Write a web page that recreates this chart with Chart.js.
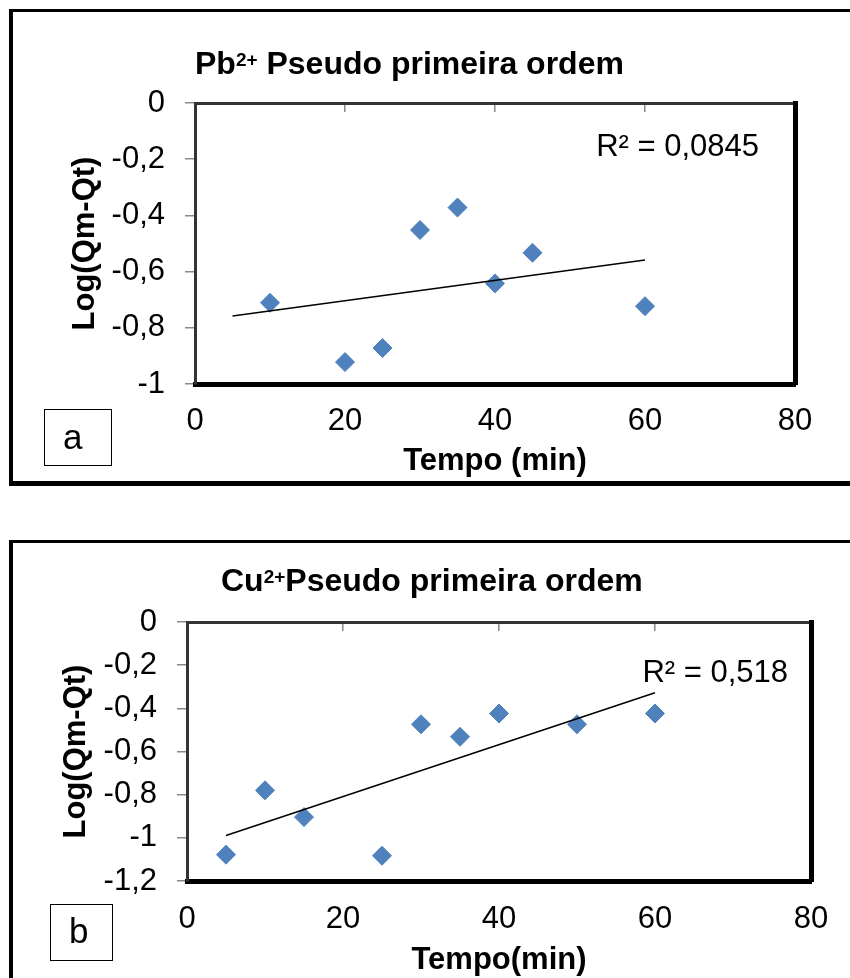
<!DOCTYPE html>
<html lang="pt-br">

<head>
    <meta charset="UTF-8" />
    <title>Pseudo primeira ordem</title>
    <script src="https://cdn.jsdelivr.net/npm/chart.js"></script>
    <style>
        body {
            margin: 0;
            width: 850px;
            height: 978px;
            overflow: hidden;
            position: relative;
            background: #fff;
            font-family: "Liberation Sans", Arial, sans-serif;
        }

        .quadro {
            position: absolute;
            left: 9px;
            width: 900px;
            box-sizing: border-box;
            border-left: 4px solid #000;
            border-top: 3px solid #000;
            border-bottom: 5px solid #000;
        }

        #quadroA { top: 9px; height: 477px; }
        #quadroB { top: 540px; height: 520px; }

        canvas { position: absolute; left: 0; }
        #graficoPb { top: 0; }
        #graficoCu { top: 530px; }

        .titulo {
            position: absolute;
            font-weight: bold;
            font-size: 32px;
            line-height: 32px;
            white-space: nowrap;
        }

        .titulo span {
            font-size: 19px;
            line-height: 19px;
            position: relative;
            top: -8px;
        }

        .letra {
            position: absolute;
            box-sizing: border-box;
            border: 1.5px solid #000;
            font-size: 35px;
            line-height: 35px;
        }
    </style>
</head>

<body>
    <div class="quadro" id="quadroA"></div>
    <div class="quadro" id="quadroB"></div>

    <canvas id="graficoPb" width="850" height="500"></canvas>
    <canvas id="graficoCu" width="850" height="470"></canvas>

    <div class="titulo" style="left:195px; top:47px;">Pb<span>2+</span> Pseudo primeira ordem</div>
    <div class="titulo" style="left:221px; top:564px;">Cu<span>2+</span>Pseudo primeira ordem</div>

    <div class="letra" style="left:44px; top:409px; width:68px; height:57px; padding:9px 0 0 18px;">a</div>
    <div class="letra" style="left:50px; top:904px; width:63px; height:57px; padding:8px 0 0 18px;">b</div>
</body>

</html>
<script>
    // dados (a) Pb2+
    var tempoPb = [10, 20, 25, 30, 35, 40, 45, 60];
    var logPb = [-0.711, -0.922, -0.872, -0.452, -0.372, -0.642, -0.533, -0.723];
    var tendTempoPb = [5, 60];
    var tendLogPb = [-0.758, -0.559];

    // dados (b) Cu2+
    var tempoCu = [5, 10, 15, 25, 30, 35, 40, 50, 60];
    var logCu = [-1.078, -0.780, -0.904, -1.083, -0.474, -0.532, -0.424, -0.474, -0.424];
    var tendTempoCu = [5, 60];
    var tendLogCu = [-0.989, -0.328];

    // ticks dos eixos
    var ticksTempo = [0, 20, 40, 60, 80];
    var ticksLogPb = [-1, -0.8, -0.6, -0.4, -0.2, 0];
    var ticksLogCu = [-1.2, -1, -0.8, -0.6, -0.4, -0.2, 0];

    Chart.defaults.font.family = '"Liberation Sans", Arial, sans-serif';
    Chart.defaults.color = '#000';

    // texto do R² no canto do grafico
    var rotuloR2 = {
        id: 'rotuloR2',
        afterDatasetsDraw: function (chart, args, opts) {
            var ctx = chart.ctx;
            var area = chart.chartArea;
            ctx.save();
            ctx.font = '31px "Liberation Sans", Arial, sans-serif';
            ctx.fillStyle = '#000';
            ctx.textAlign = 'right';
            ctx.textBaseline = 'alphabetic';
            ctx.fillText(opts.texto, area.right - opts.dx, area.top + opts.dy);
            ctx.restore();
        }
    };

    function pontos(xs, ys) {
        return xs.map(function (x, i) { return { x: x, y: ys[i] }; });
    }

    function usarTicks(lista) {
        return function (scale) {
            scale.ticks = lista.map(function (v) { return { value: v }; });
        };
    }

    function grafico(id, p) {
        new Chart(document.getElementById(id), {
            type: 'scatter',
            data: {
                datasets: [
                    {
                        data: pontos(p.tempo, p.log),
                        pointStyle: 'rectRot',
                        pointRadius: 9.5,
                        pointHoverRadius: 9.5,
                        backgroundColor: '#4f81bd',
                        borderColor: '#4f81bd',
                        borderWidth: 1,
                        order: 1
                    },
                    {
                        data: pontos(p.tendTempo, p.tendLog),
                        showLine: true,
                        borderColor: '#000',
                        borderWidth: 1.5,
                        pointRadius: 0,
                        order: 0
                    }
                ]
            },
            options: {
                responsive: false,
                animation: false,
                events: [],
                layout: { padding: { left: 0, top: p.topo, right: p.direita, bottom: 0 } },
                plugins: {
                    legend: { display: false },
                    tooltip: { enabled: false },
                    rotuloR2: { texto: p.r2, dx: p.r2dx, dy: p.r2dy }
                },
                scales: {
                    x: {
                        type: 'linear',
                        position: 'bottom',
                        min: 0,
                        max: 80,
                        afterBuildTicks: usarTicks(ticksTempo),
                        ticks: { font: { size: 31 }, padding: p.padTickX, maxRotation: 0 },
                        grid: { drawOnChartArea: false, drawTicks: false },
                        border: { display: true, color: '#000', width: 5 },
                        title: {
                            display: true,
                            text: p.tituloX,
                            font: { size: 31, weight: 'bold' },
                            padding: { top: 0, bottom: p.padTituloX }
                        },
                        afterFit: function (s) { s.height = p.alturaX; }
                    },
                    x2: {
                        type: 'linear',
                        position: 'top',
                        min: 0,
                        max: 80,
                        afterBuildTicks: usarTicks(ticksTempo),
                        ticks: { display: false },
                        grid: { drawOnChartArea: false, drawTicks: true, tickLength: -9, color: '#888', lineWidth: 1.5 },
                        border: { display: true, color: '#333', width: 3 },
                        afterFit: function (s) { s.height = 0; }
                    },
                    y: {
                        type: 'linear',
                        position: 'left',
                        min: p.minY,
                        max: 0,
                        afterBuildTicks: usarTicks(p.ticksY),
                        ticks: {
                            font: { size: 31 },
                            padding: 20,
                            callback: function (v) { return String(v).replace('.', ','); }
                        },
                        grid: { drawOnChartArea: false, drawTicks: true, tickLength: 10, color: '#888', lineWidth: 1.5 },
                        border: { display: true, color: '#333', width: 3 },
                        title: {
                            display: true,
                            text: 'Log(Qm-Qt)',
                            font: { size: 31, weight: 'bold' },
                            padding: { top: p.padTituloY, bottom: 0 }
                        },
                        afterFit: function (s) { s.width = p.larguraY; }
                    },
                    y2: {
                        type: 'linear',
                        position: 'right',
                        min: p.minY,
                        max: 0,
                        ticks: { display: false },
                        grid: { drawOnChartArea: false, drawTicks: false },
                        border: { display: true, color: '#000', width: 5 },
                        afterFit: function (s) { s.width = 0; }
                    }
                }
            },
            plugins: [rotuloR2]
        });
    }

    grafico('graficoPb', {
        tempo: tempoPb, log: logPb, tendTempo: tendTempoPb, tendLog: tendLogPb,
        ticksY: ticksLogPb, minY: -1,
        tituloX: 'Tempo (min)', r2: 'R² = 0,0845', r2dx: 36, r2dy: 53,
        topo: 103, direita: 55, larguraY: 195, alturaX: 116,
        padTickX: 19, padTituloX: 20, padTituloY: 67
    });

    grafico('graficoCu', {
        tempo: tempoCu, log: logCu, tendTempo: tendTempoCu, tendLog: tendLogCu,
        ticksY: ticksLogCu, minY: -1.2,
        tituloX: 'Tempo(min)', r2: 'R² = 0,518', r2dx: 23, r2dy: 60,
        topo: 92, direita: 39, larguraY: 187, alturaX: 119,
        padTickX: 20, padTituloX: 21, padTituloY: 58
    });
</script>
